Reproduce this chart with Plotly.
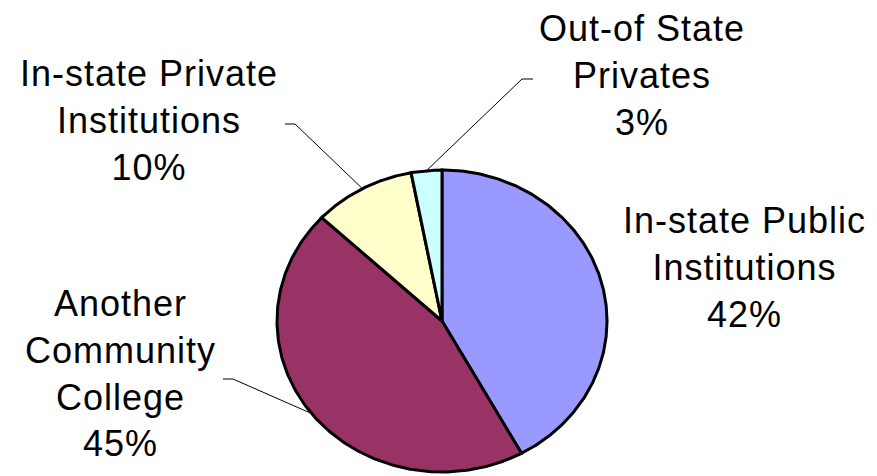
import numpy as np
import plotly.graph_objects as go

# ---- data ----
categories = ["In-state Public Institutions", "Another Community College",
              "In-state Private Institutions", "Out-of State Privates"]
label_lines = ["In-state Public<br>Institutions", "Another<br>Community<br>College",
               "In-state Private<br>Institutions", "Out-of State<br>Privates"]
shares = [42, 45, 10, 3]

# ---- style / layout ----
colors = ["#9999FF", "#993366", "#FFFFCC", "#CCFFFF"]
W, H = 877, 476
CX, CY, RX, RY = 442, 321, 165, 151   # pie centre / radii in pixels (stretched pie)
label_pos = [(744, 267), (120, 373), (149, 120), (642, 75)]
leader_pts = [None, [(233, 379), (223, 379)], [(295, 124), (285, 124)], [(522, 79), (533, 79)]]


def to_data(x, y):
    return (x - CX) / RX, (CY - y) / RY


fig = go.Figure()
total = float(sum(shares))
start = 0.0
mids = []
for name, v, c in zip(categories, shares, colors):
    end = start + 360.0 * v / total
    t = np.radians(np.linspace(start, end, 200))
    xs = np.concatenate([[0], np.sin(t), [0]])
    ys = np.concatenate([[0], np.cos(t), [0]])
    fig.add_trace(go.Scatter(x=xs, y=ys, fill="toself", fillcolor=c, mode="lines",
                             line=dict(color="black", width=3), name=name,
                             hoverinfo="name"))
    mids.append(np.radians((start + end) / 2))
    start = end

# leader lines
for mid, pts in zip(mids, leader_pts):
    if pts is None:
        continue
    ex, ey = np.sin(mid), np.cos(mid)
    lx = [ex] + [to_data(*p)[0] for p in pts]
    ly = [ey] + [to_data(*p)[1] for p in pts]
    fig.add_trace(go.Scatter(x=lx, y=ly, mode="lines",
                             line=dict(color="black", width=1), hoverinfo="skip"))

# labels
for txt, v, pos in zip(label_lines, shares, label_pos):
    x, y = to_data(*pos)
    body = f"{txt}<br>{v}%"
    body = "<br>".join(f'<span style="letter-spacing:1px">{p}</span>' for p in body.split("<br>"))
    fig.add_annotation(x=x, y=y, text=body, showarrow=False,
                       xanchor="center", yanchor="middle", align="center",
                       font=dict(family="Liberation Sans, Arial, sans-serif", size=36, color="black"))

fig.update_xaxes(range=[(0 - CX) / RX, (W - CX) / RX], visible=False, fixedrange=True)
fig.update_yaxes(range=[(CY - H) / RY, CY / RY], visible=False, fixedrange=True)
fig.update_layout(width=W, height=H, margin=dict(l=0, r=0, t=0, b=0),
                  showlegend=False, plot_bgcolor="white", paper_bgcolor="white")

fig.write_html("out.html", config={"displayModeBar": False},
               post_script="document.body.style.margin='0';document.body.style.overflow='hidden';")
